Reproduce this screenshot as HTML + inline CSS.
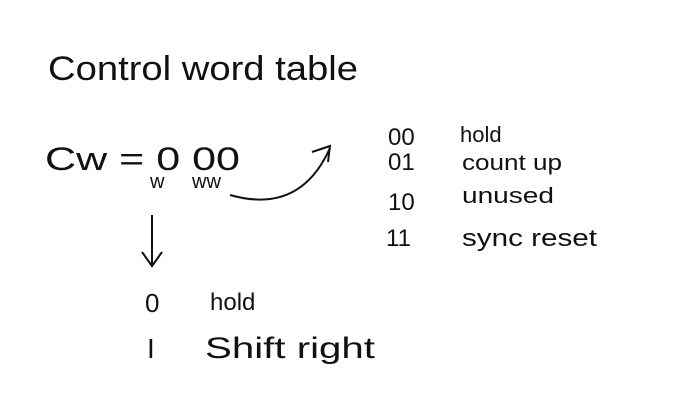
<!DOCTYPE html>
<html><head><meta charset="utf-8"><style>
html,body{margin:0;padding:0;background:#fff;}
svg{display:block;}
text{font-family:"Liberation Sans",sans-serif;fill:#111;}
</style></head><body>
<svg width="685" height="414" viewBox="0 0 685 414">
<rect width="685" height="414" fill="#fff"/>
<text x="48" y="80" font-size="34" textLength="310" lengthAdjust="spacingAndGlyphs">Control  word  table</text>
<text x="45" y="170" font-size="32" textLength="195" lengthAdjust="spacingAndGlyphs">Cw = 0 00</text>
<text x="150" y="188" font-size="20">w</text>
<text x="192" y="188" font-size="20">ww</text>
<path d="M230 195 Q300 215 330 148" fill="none" stroke="#111" stroke-width="2"/>
<path d="M312 152 L330 146 L328 162" fill="none" stroke="#111" stroke-width="2"/>
<path d="M152 215 L152 265 M142 252 L152 266 L162 252" fill="none" stroke="#111" stroke-width="2"/>
<text x="145" y="312" font-size="26">0</text>
<text x="210" y="310" font-size="24">hold</text>
<text x="147" y="358" font-size="28">I</text>
<text x="205" y="358" font-size="30" textLength="170" lengthAdjust="spacingAndGlyphs">Shift right</text>
<g>
<text x="388" y="145" font-size="24">00</text>
<text x="460" y="142" font-size="22">hold</text>
<text x="388" y="170" font-size="24">01</text>
<text x="462" y="170" font-size="22" textLength="100" lengthAdjust="spacingAndGlyphs">count up</text>
<text x="388" y="210" font-size="24">10</text>
<text x="462" y="203" font-size="22" textLength="92" lengthAdjust="spacingAndGlyphs">unused</text>
<text x="386" y="246" font-size="24">11</text>
<text x="462" y="246" font-size="24" textLength="135" lengthAdjust="spacingAndGlyphs">sync reset</text>
</g>
</svg>
</body></html>
